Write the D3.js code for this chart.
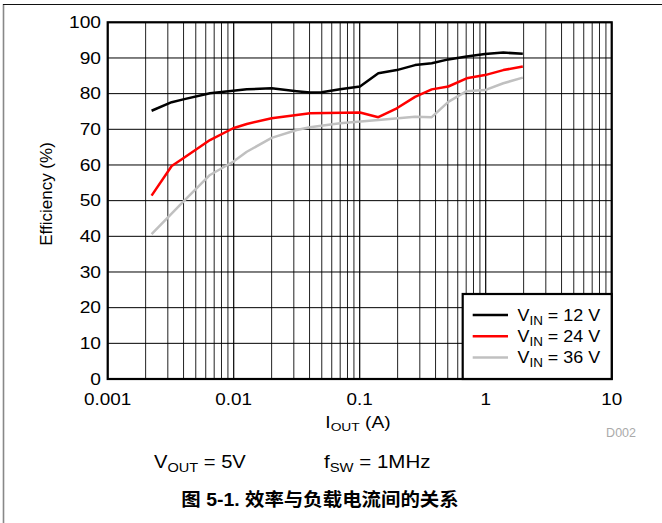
<!DOCTYPE html>
<html><head><meta charset="utf-8">
<script src="https://cdn.jsdelivr.net/npm/d3@7"></script>
<style>body{margin:0;background:#fff}svg{display:block}text{font-family:"Liberation Sans",Arial,sans-serif}</style>
</head><body><svg id="c" width="662" height="523"></svg>
<script>
const xTicks = [0.001, 0.01, 0.1, 1, 10];
const xTickLabels = ["0.001", "0.01", "0.1", "1", "10"];
const yTicks = [0,10,20,30,40,50,60,70,80,90,100];

const iout12 = [0.00223,0.00322,0.00398,0.00648,0.0099,0.0127,0.02,0.0316,0.0403,0.0499,0.0698,0.1005,0.1405,0.197,0.275,0.373,0.505,0.706,0.987,1.38,1.97];
const eff12  = [75.2,77.6,78.4,80.1,80.8,81.2,81.5,80.7,80.3,80.4,81.2,82.0,85.7,86.6,88.0,88.5,89.6,90.4,91.1,91.5,91.2];

const iout24 = [0.00223,0.00322,0.00398,0.00648,0.0099,0.0127,0.02,0.0316,0.0403,0.1005,0.1405,0.197,0.275,0.373,0.505,0.706,0.987,1.38,1.97];
const eff24  = [51.4,59.7,61.9,67.0,70.3,71.5,73.1,74.0,74.5,74.7,73.4,75.9,79.1,81.2,82.0,84.3,85.2,86.6,87.6];

const iout36 = [0.00223,0.00398,0.00648,0.0099,0.0127,0.02,0.0316,0.0403,0.0698,0.1405,0.275,0.373,0.505,0.706,0.987,1.38,1.97];
const eff36  = [40.6,49.7,57.2,60.9,63.7,67.6,69.8,70.6,71.7,72.6,73.5,73.4,77.7,80.7,81.0,82.9,84.5];

const seriesNames = ["12", "24", "36"];
const seriesColors = ["#000000", "#ff0000", "#c0c0c0"];

const svg = d3.select("#c");
const L = 107.7, R = 611.7, T = 22.3, B = 379;
const x = d3.scaleLog().domain([0.001, 10]).range([L, R]);
const y = d3.scaleLinear().domain([0, 100]).range([B, T]);

// helper: horizontally stretched text
function stext(parent, px, py, size, sx, anchor) {
  return parent.append("g").attr("transform", `translate(${px},${py}) scale(${sx},1)`)
    .append("text").attr("x", 0).attr("y", 0).attr("font-size", size)
    .attr("text-anchor", anchor || "start");
}

// page frame
svg.append("line").attr("x1",3.5).attr("x2",3.5).attr("y1",4).attr("y2",523).attr("stroke","#888").attr("stroke-width",1.6);
svg.append("line").attr("x1",3).attr("x2",662).attr("y1",4.5).attr("y2",4.5).attr("stroke","#111").attr("stroke-width",1);

// grid
const minor = [];
for (let d = 0.001; d < 10; d *= 10) for (let k = 2; k <= 9; k++) minor.push(d * k);
const g = svg.append("g");
g.selectAll(".mn").data(minor).enter().append("line")
  .attr("x1", d => x(d)).attr("x2", d => x(d)).attr("y1", T).attr("y2", B)
  .attr("stroke", "#222").attr("stroke-width", 1);
g.selectAll(".mj").data(xTicks).enter().append("line")
  .attr("x1", d => x(d)).attr("x2", d => x(d)).attr("y1", T).attr("y2", B)
  .attr("stroke", "#000").attr("stroke-width", 1.2);
g.selectAll(".hy").data(yTicks).enter().append("line")
  .attr("x1", L).attr("x2", R).attr("y1", d => y(d)).attr("y2", d => y(d))
  .attr("stroke", "#000").attr("stroke-width", 1);

// series
const series = [[iout12, eff12], [iout24, eff24], [iout36, eff36]];
const line = d3.line().x(d => x(d[0])).y(d => y(d[1]));
series.forEach((s, i) => {
  const pts = s[0].map((v, j) => [v, s[1][j]]);
  svg.append("path").datum(pts).attr("d", line).attr("fill", "none")
    .attr("stroke", seriesColors[i]).attr("stroke-width", 2.5).attr("stroke-linejoin", "round");
});

// frame
svg.append("rect").attr("x", L).attr("y", T).attr("width", R - L).attr("height", B - T)
  .attr("fill", "none").attr("stroke", "#000").attr("stroke-width", 2.2);

// y tick labels
yTicks.forEach(d => stext(svg, 101, y(d) + 5.8, 16, 1.2, "end").text(d));
// x tick labels
xTicks.forEach((d, i) => stext(svg, x(d), 405, 16, 1.18, "middle").text(xTickLabels[i]));

// axis titles
svg.append("text").attr("transform", `translate(52,194) rotate(-90)`)
  .attr("text-anchor", "middle").attr("font-size", 17).text("Efficiency (%)");
const xt = stext(svg, 358, 428, 16, 1.2, "middle");
xt.append("tspan").text("I");
xt.append("tspan").attr("dy", 3).attr("font-size", 11.5).text("OUT");
xt.append("tspan").attr("dy", -3).text(" (A)");

svg.append("text").attr("x", 636).attr("y", 437).attr("text-anchor", "end")
  .attr("font-size", 12.5).attr("fill", "#aaa").text("D002");

// conditions
const c1 = stext(svg, 154, 468, 18, 1.12, "start");
c1.append("tspan").text("V");
c1.append("tspan").attr("dy", 4).attr("font-size", 13).text("OUT");
c1.append("tspan").attr("dy", -4).text(" = 5V");
const c2 = stext(svg, 324, 468, 18, 1.14, "start");
c2.append("tspan").text("f");
c2.append("tspan").attr("dy", 4).attr("font-size", 13).text("SW");
c2.append("tspan").attr("dy", -4).text(" = 1MHz");

// caption
stext(svg, 320, 506, 18, 1.08, "middle")
  .attr("font-weight", "bold")
  .style("font-family", "'Liberation Sans','Noto Sans CJK SC',sans-serif")
  .text("图 5-1. 效率与负载电流间的关系");

// legend
const lg = svg.append("g");
lg.append("rect").attr("x", 462.7).attr("y", 294).attr("width", R - 462.7).attr("height", B - 294)
  .attr("fill", "#fff").attr("stroke", "#000").attr("stroke-width", 2.2);
seriesNames.forEach((n, i) => {
  const yy = 315 + i * 21.3;
  lg.append("line").attr("x1", 472.7).attr("x2", 508).attr("y1", yy).attr("y2", yy)
    .attr("stroke", seriesColors[i]).attr("stroke-width", 2.5);
  const t = stext(lg, 517.5, yy + 5.8, 16, 1.12, "start");
  t.append("tspan").text("V");
  t.append("tspan").attr("dy", 4).attr("font-size", 12).text("IN");
  t.append("tspan").attr("dy", -4).text(" = " + n + " V");
});
</script></body></html>
